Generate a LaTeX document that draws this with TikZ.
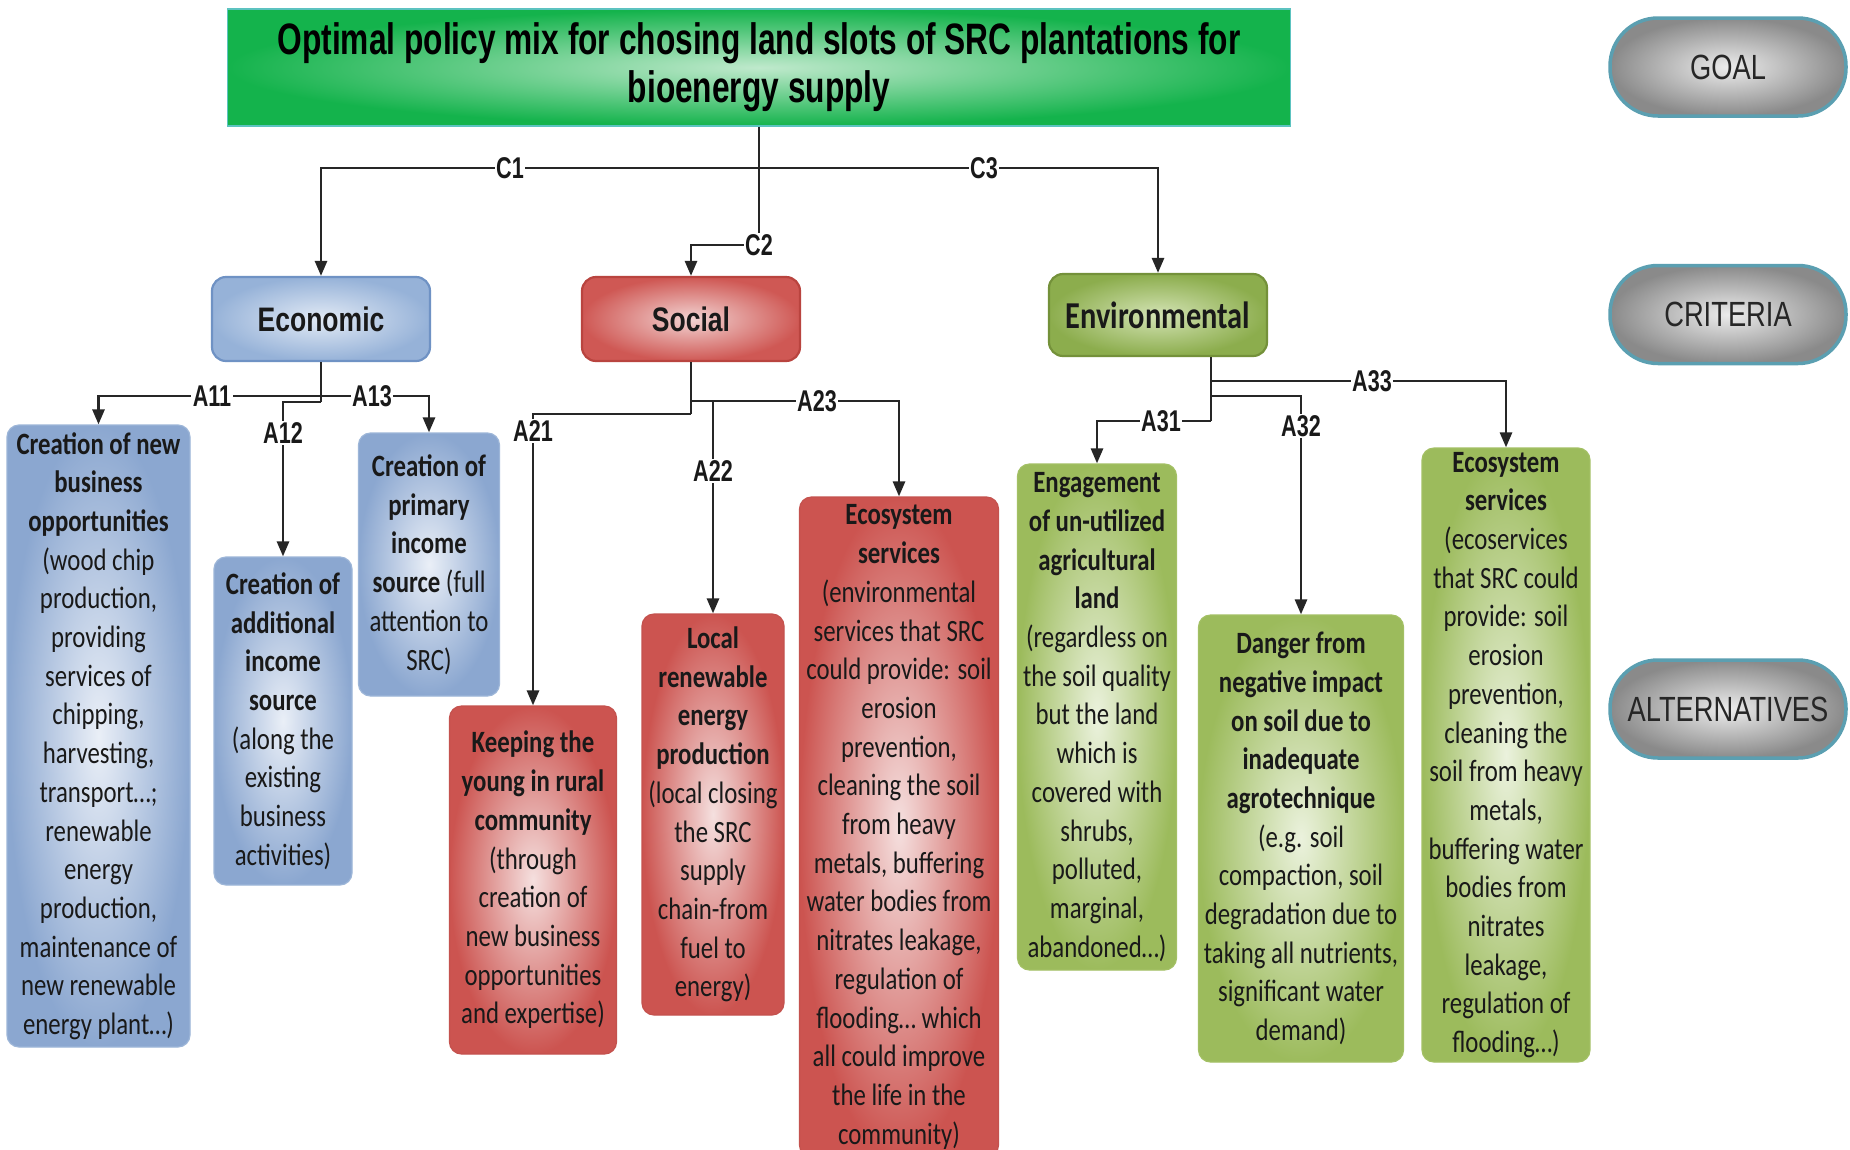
\documentclass[tikz,border=0pt]{standalone}
\usepackage{fontspec}
\setmainfont{Carlito}[FakeStretch=0.8]
\newfontfamily\narrowfont{Liberation Sans}[FakeStretch=0.72]
\newfontfamily\pillfont{Liberation Sans}[FakeStretch=0.78]
\usetikzlibrary{arrows.meta}
\definecolor{blueout}{HTML}{8BA7D0}
\definecolor{bluein}{HTML}{EAEFF7}
\definecolor{bluebd}{HTML}{9DB6D8}
\definecolor{redout}{HTML}{CC5450}
\definecolor{redin}{HTML}{F5E0DF}
\definecolor{redbd}{HTML}{C4524E}
\definecolor{grnout}{HTML}{9CBB5C}
\definecolor{grnin}{HTML}{EBF2DD}
\definecolor{grnbd}{HTML}{A3C064}
\definecolor{goalout}{HTML}{14B34C}
\definecolor{goalin}{HTML}{BFE9CC}
\definecolor{goalbd}{HTML}{5CC3C0}
\definecolor{pillout}{HTML}{8A8A8A}
\definecolor{pillin}{HTML}{ECECEC}
\definecolor{pillbd}{HTML}{5B9FB1}
\definecolor{ecoout}{HTML}{96B2D8}
\definecolor{ecoin}{HTML}{E2EAF5}
\definecolor{ecobd}{HTML}{6F92C4}
\definecolor{socout}{HTML}{CF5854}
\definecolor{socin}{HTML}{F2D3D2}
\definecolor{socbd}{HTML}{B9443F}
\definecolor{envout}{HTML}{8CAD4D}
\definecolor{envin}{HTML}{D3E3B4}
\definecolor{envbd}{HTML}{74913A}
\begin{document}
\begin{tikzpicture}[x=1pt,y=-1pt,
  box/.style={draw, rounded corners=12pt, align=center, inner sep=3pt, line width=1.2pt,
    text=black!90, font=\fontsize{31}{38.7}\selectfont},
  bluebox/.style={box, draw=bluebd, inner color=bluein, outer color=blueout},
  redbox/.style={box, draw=redbd, inner color=redin, outer color=redout},
  grnbox/.style={box, draw=grnbd, inner color=grnin, outer color=grnout},
  crit/.style={draw, rounded corners=14pt, line width=2.2pt, align=center, minimum width=218pt, minimum height=84pt, text=black!90},
  pill/.style={draw=pillbd, line width=3.5pt, rounded corners=48pt, minimum width=236pt, minimum height=98pt,
    inner color=pillin, outer color=pillout, text=black!85, font=\pillfont\fontsize{35}{40}\selectfont},
  line/.style={line width=2.7pt, draw=black!85},
  arr/.style={line, -{Triangle[length=15pt,width=12pt]}},
  lab/.style={fill=white, inner sep=1.5pt, text=black!90, font=\narrowfont\bfseries\fontsize{30}{30}\selectfont},
]
\useasboundingbox (0,0) rectangle (1850,1149);
\fill[white] (0,0) rectangle (1850,1149);
\begin{scope}
\clip (0,0) rectangle (1850,1149);

% goal
\node[draw=goalbd, line width=1.5pt, inner color=goalin, outer color=goalout, minimum width=1063pt, minimum height=117pt,
  align=center, text=black, font=\narrowfont\bfseries\fontsize{44}{48}\selectfont] (goal) at (759,67.5)
  {Optimal policy mix for chosing land slots of SRC plantations for\\bioenergy supply};

% legend pills
\node[pill] (pgoal) at (1728,67) {GOAL};
\node[pill] (pcrit) at (1728,314.5) {CRITERIA};
\node[pill] (palt) at (1728,709) {ALTERNATIVES};

% criteria
\node[crit, draw=ecobd, inner color=ecoin, outer color=ecoout, font=\pillfont\bfseries\fontsize{34}{40}\selectfont] (eco) at (321,319) {Economic};
\node[crit, draw=socbd, inner color=socin, outer color=socout, font=\pillfont\bfseries\fontsize{34}{40}\selectfont] (soc) at (691,319) {Social};
\node[crit, draw=envbd, inner color=envin, outer color=envout, minimum height=82pt, font=\bfseries\fontsize{38}{44}\selectfont] (env) at (1158,315) {Environmental};

% alternatives - economic
\node[bluebox, minimum width=183pt, minimum height=622pt] (a11) at (98.5,736)
 {\textbf{Creation of new}\\\textbf{business}\\\textbf{opportunities}\\(wood chip\\production,\\providing\\services of\\chipping,\\harvesting,\\transport…;\\renewable\\energy\\production,\\maintenance of\\new renewable\\energy plant…)};
\node[bluebox, minimum width=138pt, minimum height=328pt] (a12) at (283,721)
 {\textbf{Creation of}\\\textbf{additional}\\\textbf{income}\\\textbf{source}\\(along the\\existing\\business\\activities)};
\node[bluebox, minimum width=141pt, minimum height=263pt] (a13) at (429,564.5)
 {\textbf{Creation of}\\\textbf{primary}\\\textbf{income}\\\textbf{source} (full\\attention to\\SRC)};

% alternatives - social
\node[redbox, minimum width=167pt, minimum height=348pt] (a21) at (533,880)
 {\textbf{Keeping the}\\\textbf{young in rural}\\\textbf{community}\\(through\\creation of\\new business\\opportunities\\and expertise)};
\node[redbox, minimum width=142pt, minimum height=401pt] (a22) at (713,814.5)
 {\textbf{Local}\\\textbf{renewable}\\\textbf{energy}\\\textbf{production}\\(local closing\\the SRC\\supply\\chain-from\\fuel to\\energy)};
\node[redbox, minimum width=199pt, minimum height=660pt, inner ysep=1pt] (a23) at (899,827)
 {\textbf{Ecosystem}\\\textbf{services}\\(environmental\\services that SRC\\could provide: soil\\erosion\\prevention,\\cleaning the soil\\from heavy\\metals, buffering\\water bodies from\\nitrates leakage,\\regulation of\\flooding… which\\all could improve\\the life in the\\community)};

% alternatives - environmental
\node[grnbox, minimum width=159pt, minimum height=506pt] (a31) at (1097,717)
 {\textbf{Engagement}\\\textbf{of un-utilized}\\\textbf{agricultural}\\\textbf{land}\\(regardless on\\the soil quality\\but the land\\which is\\covered with\\shrubs,\\polluted,\\marginal,\\abandoned…)};
\node[grnbox, minimum width=205pt, minimum height=447pt] (a32) at (1301,838.5)
 {\textbf{Danger from}\\\textbf{negative impact}\\\textbf{on soil due to}\\\textbf{inadequate}\\\textbf{agrotechnique}\\(e.g. soil\\compaction, soil\\degradation due to\\taking all nutrients,\\significant water\\demand)};
\node[grnbox, minimum width=168pt, minimum height=614pt] (a33) at (1506,755)
 {\textbf{Ecosystem}\\\textbf{services}\\(ecoservices\\that SRC could\\provide: soil\\erosion\\prevention,\\cleaning the\\soil from heavy\\metals,\\buffering water\\bodies from\\nitrates\\leakage,\\regulation of\\flooding…)};

% goal -> criteria
\coordinate (cj) at (759,168);
\coordinate (c2j) at (759,245);
\draw[line] (goal.south) -- (c2j);
\draw[arr] (cj) -| (eco.north);
\draw[arr] (cj) -| (env.north);
\draw[arr] (c2j) -| (soc.north);

% economic -> alternatives
\coordinate (ej) at (321,396);
\coordinate (ej2) at (321,402);
\draw[line] (eco.south) -- (ej2);
\draw[arr] (ej) -| (a11.north);
\draw[arr] (ej) -| (a13.north);
\draw[arr] (ej2) -| (a12.north);

% social -> alternatives
\coordinate (sj) at (691,401);
\coordinate (sj2) at (691,414);
\coordinate (sj3) at (713,401);
\draw[line] (soc.south) -- (sj2);
\draw[arr] (sj) -| (a23.north);
\draw[arr] (sj2) -| (a21.north);
\draw[arr] (sj3) -- (a22.north);

% environmental -> alternatives
\coordinate (vj) at (1211,421);
\coordinate (vj2) at (1211,396);
\coordinate (vj3) at (1211,381);
\draw[line] (vj |- env.south) -- (vj);
\draw[arr] (vj) -| (a31.north);
\draw[arr] (vj2) -| (a32.north);
\draw[arr] (vj3) -| (a33.north);

% labels
\node[lab] (lc1) at (510,168) {C1};
\node[lab] (lc2) at (759,245) {C2};
\node[lab] (lc3) at (984,168) {C3};
\node[lab] (la11) at (212,396) {A11};
\node[lab] (la12) at (283,433) {A12};
\node[lab] (la13) at (372,396) {A13};
\node[lab] (la21) at (533,431) {A21};
\node[lab] (la22) at (713,471) {A22};
\node[lab] (la23) at (817,401) {A23};
\node[lab] (la31) at (1161,421) {A31};
\node[lab] (la32) at (1301,426) {A32};
\node[lab] (la33) at (1372,381) {A33};
\end{scope}
\end{tikzpicture}
\end{document}
